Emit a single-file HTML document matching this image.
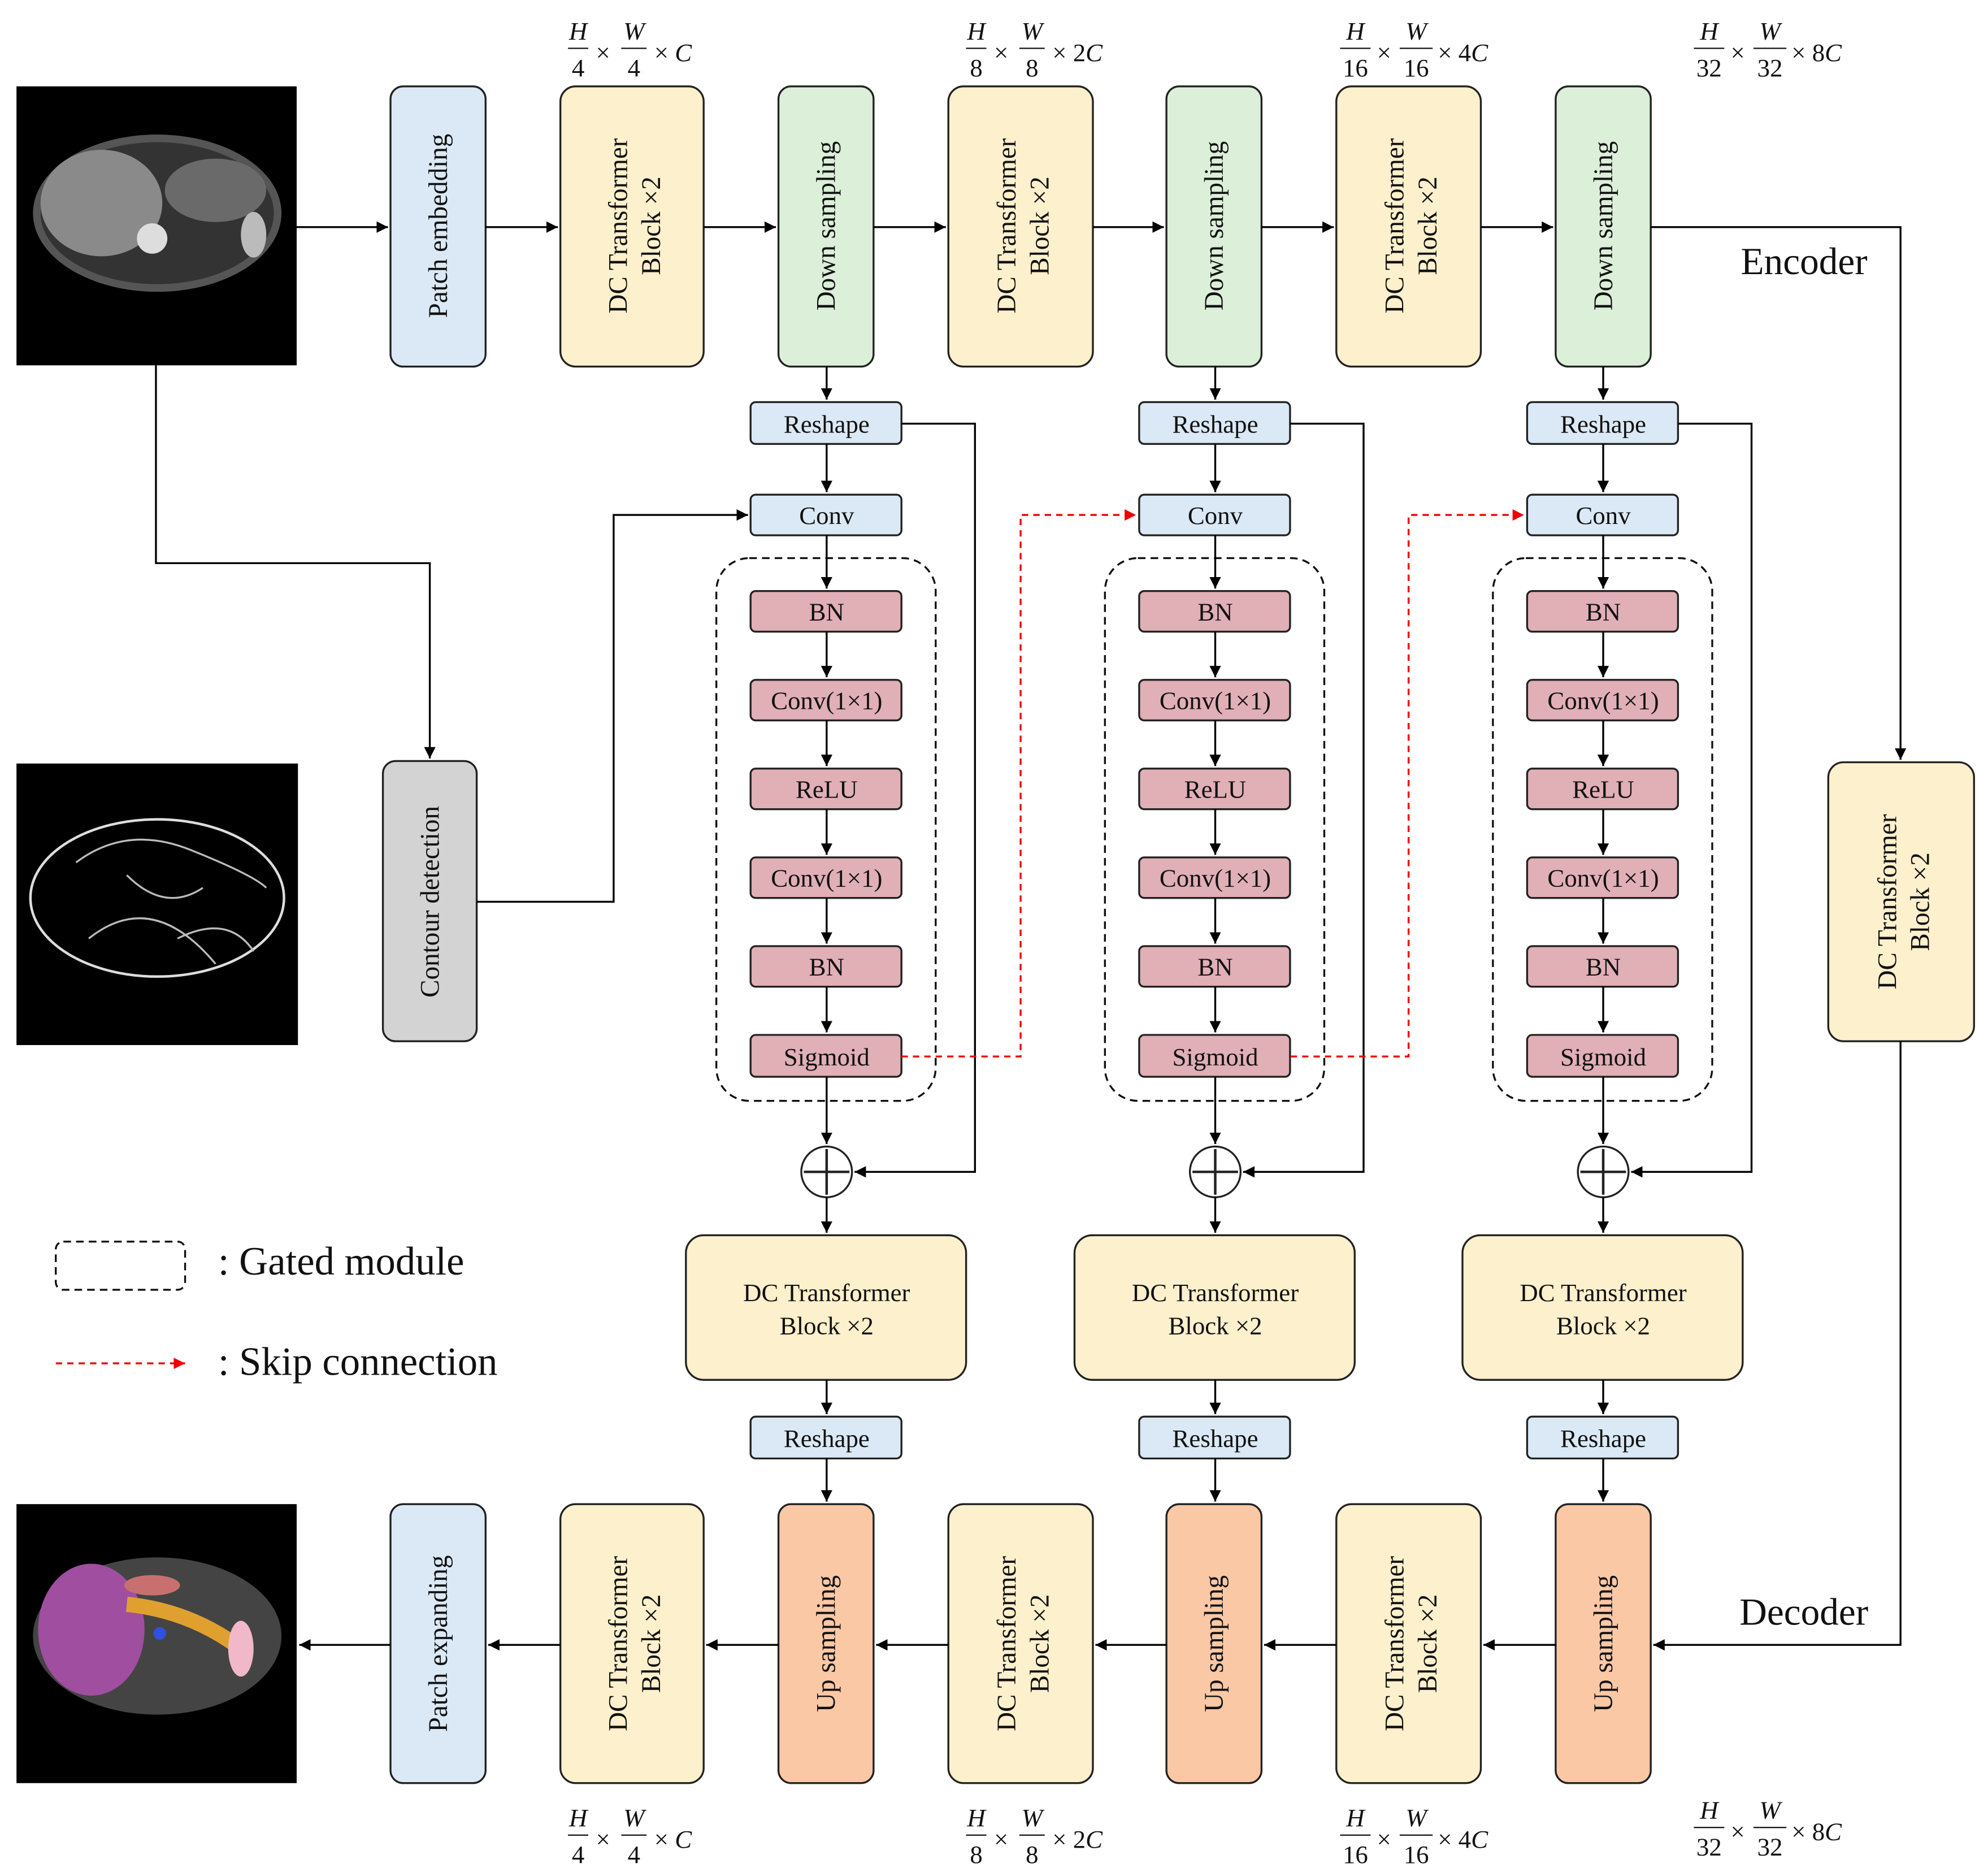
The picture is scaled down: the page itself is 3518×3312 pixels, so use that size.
<!DOCTYPE html>
<html><head><meta charset="utf-8">
<style>
html,body{margin:0;padding:0;background:#fff;}
svg{display:block;}
text{font-family:"Liberation Serif",serif;fill:#111;}
</style></head>
<body>
<svg width="3518" height="3312" viewBox="0 0 1568 1476" xmlns="http://www.w3.org/2000/svg">
<defs>
<marker id="a" viewBox="0 0 10 10" refX="10" refY="5" markerWidth="9" markerHeight="9" markerUnits="userSpaceOnUse" orient="auto"><path d="M0,0 L10,5 L0,10 z" fill="#000"/></marker>
<marker id="r" viewBox="0 0 10 10" refX="10" refY="5" markerWidth="9" markerHeight="9" markerUnits="userSpaceOnUse" orient="auto"><path d="M0,0 L10,5 L0,10 z" fill="#e00"/></marker>
</defs>
<rect width="1568" height="1476" fill="#fff"/>

<!-- images -->
<rect x="13" y="68" width="221" height="220" fill="#000"/>
<ellipse cx="124" cy="168" rx="98" ry="62" fill="#555"/>
<ellipse cx="124" cy="168" rx="92" ry="56" fill="#333"/>
<ellipse cx="80" cy="160" rx="48" ry="42" fill="#8a8a8a"/>
<ellipse cx="170" cy="150" rx="40" ry="25" fill="#6a6a6a"/>
<circle cx="120" cy="188" r="12" fill="#ddd"/>
<ellipse cx="200" cy="185" rx="10" ry="18" fill="#bbb"/>

<rect x="13" y="602" width="222" height="222" fill="#000"/>
<ellipse cx="124" cy="708" rx="100" ry="62" fill="none" stroke="#ddd" stroke-width="2"/>
<path d="M60 680 Q100 650 150 670 T210 700 M70 740 Q120 700 170 760 M100 690 Q130 720 160 700 M140 740 Q180 720 200 750" stroke="#bbb" fill="none" stroke-width="1.5"/>

<rect x="13" y="1186" width="221" height="220" fill="#000"/>
<ellipse cx="124" cy="1290" rx="98" ry="62" fill="#444"/>
<ellipse cx="72" cy="1285" rx="42" ry="52" fill="#a04ea0"/>
<path d="M100 1265 Q150 1270 190 1300" stroke="#e0a030" stroke-width="12" fill="none"/>
<ellipse cx="190" cy="1300" rx="10" ry="22" fill="#f0b8c8"/>
<ellipse cx="120" cy="1250" rx="22" ry="8" fill="#c87070"/>
<circle cx="126" cy="1288" r="5" fill="#3050e0"/>

<g stroke="#222" stroke-width="1.5">
<rect x="308" y="68" width="75" height="221" rx="10" fill="#dbe9f6"/>
<rect x="442" y="68" width="113" height="221" rx="12" fill="#fdf0cc"/>
<rect x="614" y="68" width="75" height="221" rx="10" fill="#dcefd9"/>
<rect x="748" y="68" width="114" height="221" rx="12" fill="#fdf0cc"/>
<rect x="920" y="68" width="75" height="221" rx="10" fill="#dcefd9"/>
<rect x="1054" y="68" width="114" height="221" rx="12" fill="#fdf0cc"/>
<rect x="1227" y="68" width="75" height="221" rx="10" fill="#dcefd9"/>
<rect x="308" y="1186" width="75" height="220" rx="10" fill="#dbe9f6"/>
<rect x="442" y="1186" width="113" height="220" rx="12" fill="#fdf0cc"/>
<rect x="614" y="1186" width="75" height="220" rx="10" fill="#fbc8a6"/>
<rect x="748" y="1186" width="114" height="220" rx="12" fill="#fdf0cc"/>
<rect x="920" y="1186" width="75" height="220" rx="10" fill="#fbc8a6"/>
<rect x="1054" y="1186" width="114" height="220" rx="12" fill="#fdf0cc"/>
<rect x="1227" y="1186" width="75" height="220" rx="10" fill="#fbc8a6"/>
<rect x="1442" y="601" width="115" height="220" rx="12" fill="#fdf0cc"/>
<rect x="302" y="600" width="74" height="221" rx="10" fill="#d3d3d3"/>
</g>

<g font-size="21" text-anchor="middle">
<text transform="translate(345.5,178) rotate(-90)" dy="7">Patch embedding</text>
<text transform="translate(498.5,178) rotate(-90)"><tspan x="0" dy="-4">DC Transformer</tspan><tspan x="0" dy="26">Block ×2</tspan></text>
<text transform="translate(651.5,178) rotate(-90)" dy="7">Down sampling</text>
<text transform="translate(805,178) rotate(-90)"><tspan x="0" dy="-4">DC Transformer</tspan><tspan x="0" dy="26">Block ×2</tspan></text>
<text transform="translate(957.5,178) rotate(-90)" dy="7">Down sampling</text>
<text transform="translate(1111,178) rotate(-90)"><tspan x="0" dy="-4">DC Transformer</tspan><tspan x="0" dy="26">Block ×2</tspan></text>
<text transform="translate(1264.5,178) rotate(-90)" dy="7">Down sampling</text>

<text transform="translate(345.5,1296) rotate(-90)" dy="7">Patch expanding</text>
<text transform="translate(498.5,1296) rotate(-90)"><tspan x="0" dy="-4">DC Transformer</tspan><tspan x="0" dy="26">Block ×2</tspan></text>
<text transform="translate(651.5,1296) rotate(-90)" dy="7">Up sampling</text>
<text transform="translate(805,1296) rotate(-90)"><tspan x="0" dy="-4">DC Transformer</tspan><tspan x="0" dy="26">Block ×2</tspan></text>
<text transform="translate(957.5,1296) rotate(-90)" dy="7">Up sampling</text>
<text transform="translate(1111,1296) rotate(-90)"><tspan x="0" dy="-4">DC Transformer</tspan><tspan x="0" dy="26">Block ×2</tspan></text>
<text transform="translate(1264.5,1296) rotate(-90)" dy="7">Up sampling</text>

<text transform="translate(1499.5,711) rotate(-90)"><tspan x="0" dy="-4">DC Transformer</tspan><tspan x="0" dy="26">Block ×2</tspan></text>
<text transform="translate(339,711) rotate(-90)" dy="7">Contour detection</text>
</g>

<g id="col">
<rect x="565" y="440" width="173" height="428" rx="26" fill="none" stroke="#111" stroke-width="1.5" stroke-dasharray="6,4"/>
<g stroke="#222" stroke-width="1.5">
<rect x="592" y="317" width="119" height="33" rx="4" fill="#dbe9f6"/>
<rect x="592" y="390" width="119" height="32" rx="4" fill="#dbe9f6"/>
<rect x="592" y="466" width="119" height="32" rx="4" fill="#e1afb6"/>
<rect x="592" y="536" width="119" height="32" rx="4" fill="#e1afb6"/>
<rect x="592" y="606" width="119" height="32" rx="4" fill="#e1afb6"/>
<rect x="592" y="676" width="119" height="32" rx="4" fill="#e1afb6"/>
<rect x="592" y="746" width="119" height="32" rx="4" fill="#e1afb6"/>
<rect x="592" y="816" width="119" height="33" rx="4" fill="#e1afb6"/>
<rect x="541" y="974" width="221" height="114" rx="14" fill="#fdf0cc"/>
<rect x="592" y="1117" width="119" height="33" rx="4" fill="#dbe9f6"/>
<circle cx="652" cy="924" r="20" fill="#fff"/>
<path d="M652 906 V942 M634 924 H670" fill="none" stroke-width="2"/>
</g>
<g font-size="20" text-anchor="middle">
<text x="652" y="341">Reshape</text>
<text x="652" y="413">Conv</text>
<text x="652" y="489">BN</text>
<text x="652" y="559">Conv(1×1)</text>
<text x="652" y="629">ReLU</text>
<text x="652" y="699">Conv(1×1)</text>
<text x="652" y="769">BN</text>
<text x="652" y="840">Sigmoid</text>
<text x="652" y="1026">DC Transformer</text>
<text x="652" y="1052">Block  ×2</text>
<text x="652" y="1141">Reshape</text>
</g>
<g stroke="#000" stroke-width="1.5" fill="none" marker-end="url(#a)">
<path d="M652 289 V315"/>
<path d="M652 350 V388"/>
<path d="M652 422 V464"/>
<path d="M652 498 V534"/>
<path d="M652 568 V604"/>
<path d="M652 638 V674"/>
<path d="M652 708 V744"/>
<path d="M652 778 V814"/>
<path d="M652 849 V902"/>
<path d="M652 944 V972"/>
<path d="M652 1088 V1115"/>
<path d="M652 1150 V1184"/>
<path d="M711 334 H769 V924 H674"/>
</g>
</g>
<use href="#col" x="306.5"/>
<use href="#col" x="612.5"/>

<g stroke="#000" stroke-width="1.5" fill="none" marker-end="url(#a)">
<path d="M234 179 H306"/>
<path d="M383 179 H440"/>
<path d="M555 179 H612"/>
<path d="M689 179 H746"/>
<path d="M862 179 H918"/>
<path d="M995 179 H1052"/>
<path d="M1168 179 H1225"/>
<path d="M1302 179 H1499 V599"/>
<path d="M1499 821 V1297 H1304"/>
<path d="M1227 1297 H1170"/>
<path d="M1054 1297 H997"/>
<path d="M920 1297 H864"/>
<path d="M748 1297 H691"/>
<path d="M614 1297 H557"/>
<path d="M442 1297 H385"/>
<path d="M308 1297 H236"/>
<path d="M123 288 V444 H339 V598"/>
<path d="M376 711 H484 V406 H590"/>
</g>
<g stroke="#e00" stroke-width="1.5" fill="none" stroke-dasharray="5,4" marker-end="url(#r)">
<path d="M711 833 H805 V406 H896"/>
<path d="M1018 833 H1111 V406 H1202"/>
<path d="M44 1075 H146"/>
</g>

<rect x="44" y="979" width="102" height="38" rx="6" fill="none" stroke="#111" stroke-width="1.5" stroke-dasharray="6,4"/>
<text x="172" y="1005" font-size="31.5">: Gated module</text>
<text x="172" y="1084" font-size="31.5">: Skip connection</text>
<text x="1373" y="216" font-size="30">Encoder</text>
<text x="1372" y="1281" font-size="30">Decoder</text>

<g font-size="20" font-style="italic">
<g transform="translate(448,0)">
<text x="8" y="31" text-anchor="middle">H</text><line x1="0" y1="38" x2="16" y2="38" stroke="#111"/><text x="8" y="60" text-anchor="middle" font-style="normal">4</text>
<text x="22" y="48" font-style="normal">×</text>
<text x="52" y="31" text-anchor="middle">W</text><line x1="42" y1="38" x2="62" y2="38" stroke="#111"/><text x="52" y="60" text-anchor="middle" font-style="normal">4</text>
<text x="68" y="48"><tspan font-style="normal">× </tspan>C</text>
</g>
<g transform="translate(762,0)">
<text x="8" y="31" text-anchor="middle">H</text><line x1="0" y1="38" x2="16" y2="38" stroke="#111"/><text x="8" y="60" text-anchor="middle" font-style="normal">8</text>
<text x="22" y="48" font-style="normal">×</text>
<text x="52" y="31" text-anchor="middle">W</text><line x1="42" y1="38" x2="62" y2="38" stroke="#111"/><text x="52" y="60" text-anchor="middle" font-style="normal">8</text>
<text x="68" y="48"><tspan font-style="normal">× 2</tspan>C</text>
</g>
<g transform="translate(1057,0)">
<text x="12" y="31" text-anchor="middle">H</text><line x1="0" y1="38" x2="24" y2="38" stroke="#111"/><text x="12" y="60" text-anchor="middle" font-style="normal">16</text>
<text x="29" y="48" font-style="normal">×</text>
<text x="60" y="31" text-anchor="middle">W</text><line x1="47" y1="38" x2="73" y2="38" stroke="#111"/><text x="60" y="60" text-anchor="middle" font-style="normal">16</text>
<text x="77" y="48"><tspan font-style="normal">× 4</tspan>C</text>
</g>
<g transform="translate(1336,0)">
<text x="12" y="31" text-anchor="middle">H</text><line x1="0" y1="38" x2="24" y2="38" stroke="#111"/><text x="12" y="60" text-anchor="middle" font-style="normal">32</text>
<text x="29" y="48" font-style="normal">×</text>
<text x="60" y="31" text-anchor="middle">W</text><line x1="47" y1="38" x2="73" y2="38" stroke="#111"/><text x="60" y="60" text-anchor="middle" font-style="normal">32</text>
<text x="77" y="48"><tspan font-style="normal">× 8</tspan>C</text>
</g>

<g transform="translate(448,1409)">
<text x="8" y="31" text-anchor="middle">H</text><line x1="0" y1="38" x2="16" y2="38" stroke="#111"/><text x="8" y="60" text-anchor="middle" font-style="normal">4</text>
<text x="22" y="48" font-style="normal">×</text>
<text x="52" y="31" text-anchor="middle">W</text><line x1="42" y1="38" x2="62" y2="38" stroke="#111"/><text x="52" y="60" text-anchor="middle" font-style="normal">4</text>
<text x="68" y="48"><tspan font-style="normal">× </tspan>C</text>
</g>
<g transform="translate(762,1409)">
<text x="8" y="31" text-anchor="middle">H</text><line x1="0" y1="38" x2="16" y2="38" stroke="#111"/><text x="8" y="60" text-anchor="middle" font-style="normal">8</text>
<text x="22" y="48" font-style="normal">×</text>
<text x="52" y="31" text-anchor="middle">W</text><line x1="42" y1="38" x2="62" y2="38" stroke="#111"/><text x="52" y="60" text-anchor="middle" font-style="normal">8</text>
<text x="68" y="48"><tspan font-style="normal">× 2</tspan>C</text>
</g>
<g transform="translate(1057,1409)">
<text x="12" y="31" text-anchor="middle">H</text><line x1="0" y1="38" x2="24" y2="38" stroke="#111"/><text x="12" y="60" text-anchor="middle" font-style="normal">16</text>
<text x="29" y="48" font-style="normal">×</text>
<text x="60" y="31" text-anchor="middle">W</text><line x1="47" y1="38" x2="73" y2="38" stroke="#111"/><text x="60" y="60" text-anchor="middle" font-style="normal">16</text>
<text x="77" y="48"><tspan font-style="normal">× 4</tspan>C</text>
</g>
<g transform="translate(1336,1403)">
<text x="12" y="31" text-anchor="middle">H</text><line x1="0" y1="38" x2="24" y2="38" stroke="#111"/><text x="12" y="60" text-anchor="middle" font-style="normal">32</text>
<text x="29" y="48" font-style="normal">×</text>
<text x="60" y="31" text-anchor="middle">W</text><line x1="47" y1="38" x2="73" y2="38" stroke="#111"/><text x="60" y="60" text-anchor="middle" font-style="normal">32</text>
<text x="77" y="48"><tspan font-style="normal">× 8</tspan>C</text>
</g>
</g>
</svg>
</body></html>
